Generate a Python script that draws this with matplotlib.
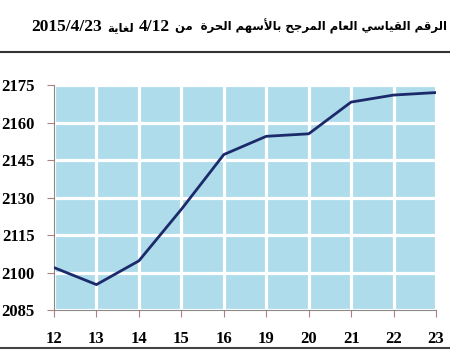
import matplotlib
matplotlib.use("Agg")
import matplotlib.pyplot as plt

# data
days = ["12", "13", "14", "15", "16", "19", "20", "21", "22", "23"]
index_values = [2102.0, 2095.2, 2104.7, 2125.3, 2147.2, 2154.5, 2155.5, 2168.2, 2171.0, 2172.0]
y_ticks = [2085, 2100, 2115, 2130, 2145, 2160, 2175]

title_ar = "الرقم القياسي العام المرجح بالأسهم الحرة  من"
title_mid = "لغاية"
title_from = "4/12"
title_to = "2015/4/23"

# matplotlib has no arabic shaping, so map letters to presentation forms
# forms: isolated, final, initial, medial (None = does not join to next)
FORMS = {
    "ا": (0xFE8D, 0xFE8E, None, None),
    "أ": (0xFE83, 0xFE84, None, None),
    "ب": (0xFE8F, 0xFE90, 0xFE91, 0xFE92),
    "ة": (0xFE93, 0xFE94, None, None),
    "ج": (0xFE9D, 0xFE9E, 0xFE9F, 0xFEA0),
    "ح": (0xFEA1, 0xFEA2, 0xFEA3, 0xFEA4),
    "ر": (0xFEAD, 0xFEAE, None, None),
    "س": (0xFEB1, 0xFEB2, 0xFEB3, 0xFEB4),
    "ع": (0xFEC9, 0xFECA, 0xFECB, 0xFECC),
    "غ": (0xFECD, 0xFECE, 0xFECF, 0xFED0),
    "ق": (0xFED5, 0xFED6, 0xFED7, 0xFED8),
    "ل": (0xFEDD, 0xFEDE, 0xFEDF, 0xFEE0),
    "م": (0xFEE1, 0xFEE2, 0xFEE3, 0xFEE4),
    "ن": (0xFEE5, 0xFEE6, 0xFEE7, 0xFEE8),
    "ه": (0xFEE9, 0xFEEA, 0xFEEB, 0xFEEC),
    "ي": (0xFEF1, 0xFEF2, 0xFEF3, 0xFEF4),
}
LAM_ALEF = {"ا": (0xFEFB, 0xFEFC), "أ": (0xFEF7, 0xFEF8)}


def shape_word(word):
    # merge lam + alef into ligatures first
    letters = []
    i = 0
    while i < len(word):
        if word[i] == "ل" and i + 1 < len(word) and word[i + 1] in LAM_ALEF:
            letters.append(("LA", word[i + 1]))
            i += 2
        else:
            letters.append((word[i], None))
            i += 1

    def joins_next(item):
        ch = item[0]
        return ch != "LA" and ch in FORMS and FORMS[ch][2] is not None

    out = []
    for k, item in enumerate(letters):
        prev_joins = k > 0 and joins_next(letters[k - 1])
        ch, alef = item
        if ch == "LA":
            iso, fin = LAM_ALEF[alef]
            out.append(chr(fin if prev_joins else iso))
            continue
        if ch not in FORMS:
            out.append(ch)
            continue
        iso, fin, ini, med = FORMS[ch]
        next_ok = ini is not None and k + 1 < len(letters)
        if prev_joins and next_ok:
            out.append(chr(med))
        elif prev_joins:
            out.append(chr(fin))
        elif next_ok:
            out.append(chr(ini))
        else:
            out.append(chr(iso))
    return "".join(reversed(out))


def visual(text):
    words = text.split(" ")
    return " ".join(shape_word(w) for w in reversed(words))


fig = plt.figure(figsize=(4.5, 3.5), dpi=100)
ax = fig.add_axes([0.12, 0.114, 0.849, 0.643])

x = list(range(len(days)))
ax.set_facecolor("#aedcea")
ax.plot(x, index_values, color="#1c2a6b", linewidth=2.0, zorder=3)

ax.set_xlim(0, len(days) - 1)
ax.set_ylim(2085, 2175)
ax.set_xticks(x)
ax.set_xticklabels(days)
ax.set_yticks(y_ticks)
ax.grid(True, color="white", linewidth=2.3)
ax.set_axisbelow(True)

for side in ["top", "right"]:
    ax.spines[side].set_visible(False)
for side in ["left", "bottom"]:
    ax.spines[side].set_color("#8a8a8a")
    ax.spines[side].set_linewidth(0.8)
ax.tick_params(axis="both", direction="out", length=5, color="#b08080", width=0.8)
ax.tick_params(axis="x", pad=10)
ax.tick_params(axis="y", pad=9)
for lab in ax.get_xticklabels() + ax.get_yticklabels():
    lab.set_fontfamily("Liberation Serif")
    lab.set_fontweight("bold")
    lab.set_fontsize(12)

# title, laid out right to left: arabic in DejaVu Sans, numbers in serif
pieces = [
    (visual(title_ar), "DejaVu Sans", 8.4),
    (title_from, "Liberation Serif", 12.5),
    (visual(title_mid), "DejaVu Sans", 8.4),
    (title_to, "Liberation Serif", 12.5),
]
renderer = fig.canvas.get_renderer()
right = 447
gap = 5
for s, fam, size in pieces:
    t = fig.text(right / 450, 1 - 31 / 350, s, ha="right", va="baseline",
                 fontsize=size, fontweight="bold", family=fam)
    w = t.get_window_extent(renderer).width
    right = right - w - gap

fig.add_artist(plt.Line2D([0, 1], [0.851, 0.851], color="#333333", linewidth=1.5))
fig.add_artist(plt.Line2D([0, 1], [0.006, 0.006], color="#444444", linewidth=1.5))

fig.savefig("out.png", dpi=100)
